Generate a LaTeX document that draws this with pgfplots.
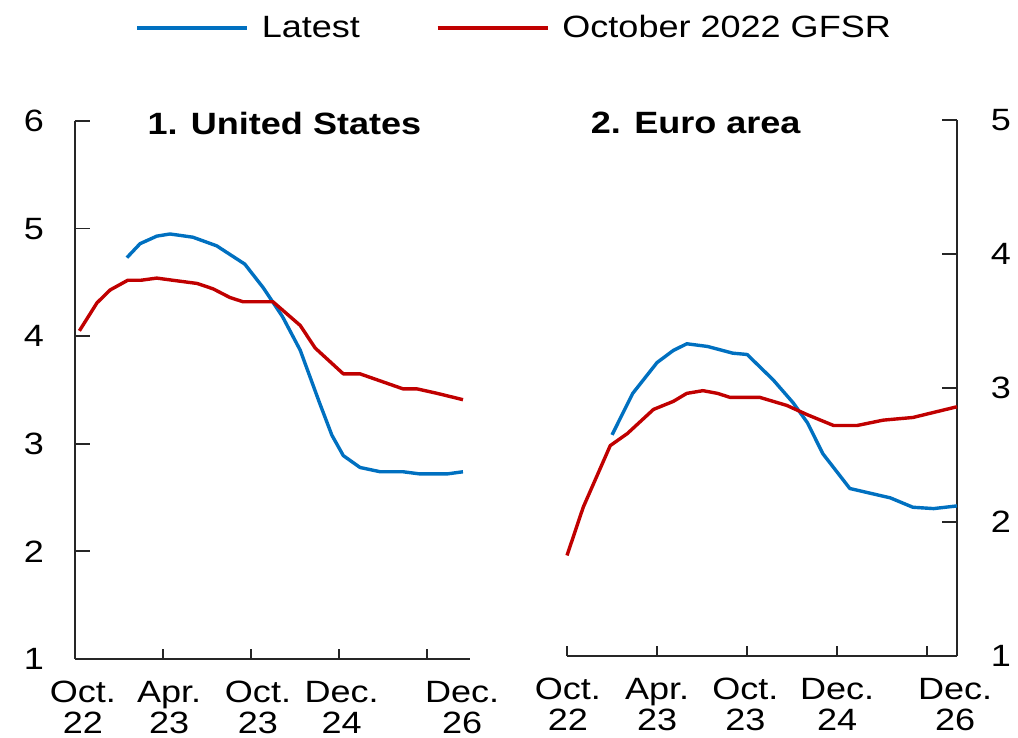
\documentclass[border=0pt]{standalone}
\usepackage{fontspec}
\setmainfont{Liberation Sans}[FakeStretch=1.17]
\usepackage{pgfplots}
\pgfplotsset{compat=1.18}
\definecolor{imfblue}{RGB}{0,112,192}
\definecolor{imfred}{RGB}{192,0,0}
\newcommand{\fs}{\fontsize{15.4}{15.5}\selectfont}
\begin{document}
\begin{tikzpicture}
\useasboundingbox (0,0) rectangle (509pt,369pt);
\pgfplotsset{
  panel/.style={
    scale only axis,
    anchor=south west,
    axis x line=bottom,
    major tick length=4.8pt,
    xtick style={line width=0.9pt, black!85},
    ytick style={/pgfplots/major tick length=7.5pt, line width=0.9pt, black!85},
    /pgf/number format/assume math mode=true,
    tick label style={font=\fs},
    xtick={0,1,2,3,4},
    xticklabels={},
    extra x tick style={major tick length=0pt, major tick style={draw=none}, xticklabel style={align=center, anchor=north, inner sep=0pt, yshift=-11pt, font=\fs}},
    extra x tick labels={{Oct.\\22},{Apr.\\23},{Oct.\\23},{Dec.\\24},{Dec.\\26}},
    clip=false,
  },
  ser/.style={line width=1.7pt, #1, line join=round},
}
\begin{axis}[panel,
  at={(37.5pt,39.5pt)}, width=197.5pt, height=269pt,
  xmin=0, xmax=4.49, ymin=1, ymax=6,
  axis y line=left,
  tick align=inside,
  axis line style={-, line width=0.9pt, black!85},
  ytick={1,2,3,4,5,6},
  yticklabel style={anchor=center, xshift=-20.5pt},
  extra x ticks={0.09,1.07,2.08,3.03,4.40},
  legend columns=2,
  legend style={at={(0.152,1.173)}, anchor=west, draw=none, fill=none, inner sep=0pt, font=\fs,
    /tikz/every odd column/.append style={column sep=4.5pt},
    /tikz/every even column/.append style={column sep=36pt}},
  legend image code/.code={\draw[#1] (0pt,0pt) -- (55pt,0pt);},
]
\addplot[ser=imfblue] table {
0.59 4.73
0.74 4.86
0.93 4.93
1.08 4.95
1.34 4.92
1.61 4.84
1.93 4.67
2.14 4.45
2.36 4.18
2.56 3.87
2.78 3.38
2.92 3.08
3.05 2.89
3.24 2.78
3.47 2.74
3.73 2.74
3.92 2.72
4.23 2.72
4.41 2.74
};
\addlegendentry{Latest}
\addplot[ser=imfred] table {
0.05 4.05
0.25 4.31
0.40 4.43
0.60 4.52
0.75 4.52
0.93 4.54
1.11 4.52
1.39 4.49
1.57 4.44
1.76 4.36
1.91 4.32
2.25 4.32
2.56 4.10
2.73 3.89
3.05 3.65
3.24 3.65
3.73 3.51
3.89 3.51
4.11 3.47
4.41 3.41
};
\addlegendentry{October 2022 GFSR}
\node[font=\fs\bfseries, anchor=center] at (rel axis cs:0.53,0.995) {1. United States};
\end{axis}
\begin{axis}[panel,
  at={(283.5pt,41pt)}, width=195pt, height=268pt,
  xmin=0, xmax=4.33, ymin=1, ymax=5,
  axis y line=right,
  tick align=inside,
  axis line style={-, line width=0.9pt, black!85},
  ytick={1,2,3,4,5},
  yticklabel style={anchor=center, xshift=22pt},
  extra x ticks={0.01,1.0,1.98,3.0,4.31},
]
\addplot[ser=imfblue] table {
0.50 2.65
0.73 2.96
1.00 3.19
1.18 3.28
1.33 3.33
1.56 3.31
1.84 3.26
2.00 3.25
2.29 3.06
2.51 2.89
2.67 2.74
2.84 2.51
3.14 2.25
3.59 2.18
3.84 2.11
4.07 2.10
4.33 2.12
};
\addplot[ser=imfred] table {
0.00 1.75
0.18 2.11
0.48 2.57
0.67 2.66
0.96 2.84
1.18 2.90
1.33 2.96
1.51 2.98
1.67 2.96
1.81 2.93
2.14 2.93
2.44 2.87
2.67 2.80
2.96 2.72
3.22 2.72
3.51 2.76
3.84 2.78
4.33 2.86
};
\node[font=\fs\bfseries, anchor=center] at (rel axis cs:0.33,0.995) {2. Euro area};
\end{axis}
\end{tikzpicture}
\end{document}
